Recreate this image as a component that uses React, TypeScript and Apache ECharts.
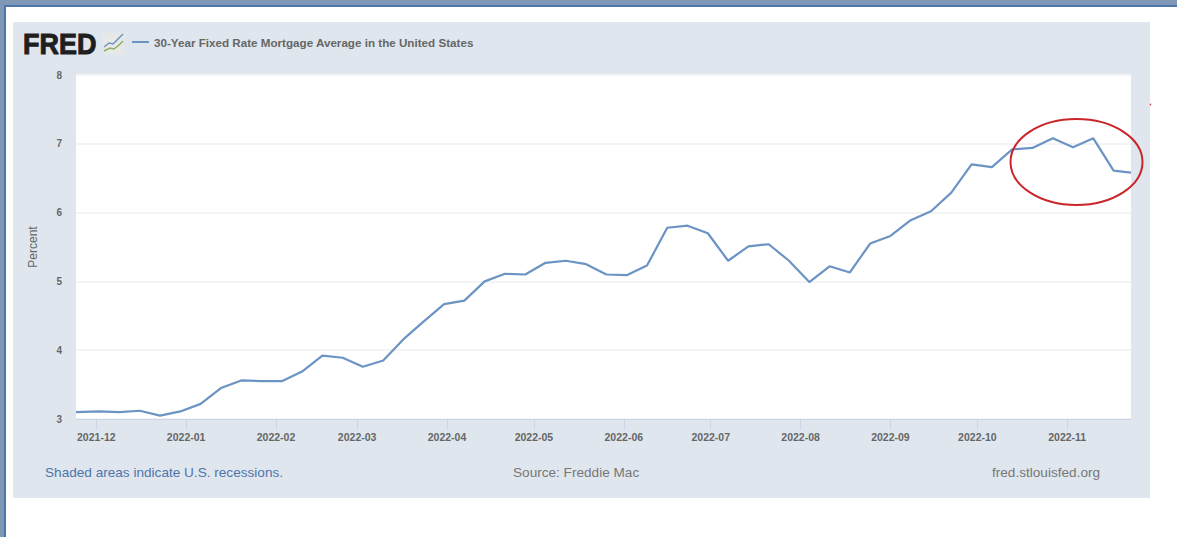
import React, { useEffect, useRef } from "react";
import * as echarts from "echarts";

const FONT = '"Liberation Sans", Arial, sans-serif';

const seriesName = "30-Year Fixed Rate Mortgage Average in the United States";

const weeks = [
  "2021-11-24", "2021-12-02", "2021-12-09", "2021-12-16", "2021-12-23", "2021-12-30",
  "2022-01-06", "2022-01-13", "2022-01-20", "2022-01-27", "2022-02-03", "2022-02-10",
  "2022-02-17", "2022-02-24", "2022-03-03", "2022-03-10", "2022-03-17", "2022-03-24",
  "2022-03-31", "2022-04-07", "2022-04-14", "2022-04-21", "2022-04-28", "2022-05-05",
  "2022-05-12", "2022-05-19", "2022-05-26", "2022-06-02", "2022-06-09", "2022-06-16",
  "2022-06-23", "2022-06-30", "2022-07-07", "2022-07-14", "2022-07-21", "2022-07-28",
  "2022-08-04", "2022-08-11", "2022-08-18", "2022-08-25", "2022-09-01", "2022-09-08",
  "2022-09-15", "2022-09-22", "2022-09-29", "2022-10-06", "2022-10-13", "2022-10-20",
  "2022-10-27", "2022-11-03", "2022-11-10", "2022-11-17", "2022-11-23",
];

const rates = [
  3.10, 3.11, 3.10, 3.12, 3.05, 3.11,
  3.22, 3.45, 3.56, 3.55, 3.55, 3.69,
  3.92, 3.89, 3.76, 3.85, 4.16, 4.42,
  4.67, 4.72, 5.00, 5.11, 5.10, 5.27,
  5.30, 5.25, 5.10, 5.09, 5.23, 5.78,
  5.81, 5.70, 5.30, 5.51, 5.54, 5.30,
  4.99, 5.22, 5.13, 5.55, 5.66, 5.89,
  6.02, 6.29, 6.70, 6.66, 6.92, 6.94,
  7.08, 6.95, 7.08, 6.61, 6.58,
];

const monthTicks = [
  "2021-12-01", "2022-01-01", "2022-02-01", "2022-03-01", "2022-04-01", "2022-05-01",
  "2022-06-01", "2022-07-01", "2022-08-01", "2022-09-01", "2022-10-01", "2022-11-01",
];

const toTime = (d: string) => Date.UTC(+d.slice(0, 4), +d.slice(5, 7) - 1, +d.slice(8, 10));

const monthLabel = (v: number) => new Date(v).toISOString().slice(0, 7);

export default function App() {
  const ref = useRef<HTMLDivElement>(null);

  useEffect(() => {
    document.body.style.margin = "0";
    const chart = echarts.init(ref.current!, null, { renderer: "svg" });
    const backdrop = -20;
    chart.setOption({
      animation: false,
      backgroundColor: "#ffffff",
      grid: {
        show: true,
        left: 76,
        top: 75,
        width: 1055,
        height: 344,
        backgroundColor: "#ffffff",
        borderWidth: 0,
      },
      legend: {
        show: true,
        left: 127,
        top: 31,
        itemWidth: 17,
        itemHeight: 2,
        itemGap: 4,
        icon: "rect",
        textStyle: { fontFamily: FONT, fontSize: 11.65, fontWeight: "bold", color: "#666666" },
      },
      xAxis: {
        type: "value",
        min: toTime(weeks[0]),
        max: toTime(weeks[weeks.length - 1]),
        axisLine: { show: true, lineStyle: { color: "#ccd6eb", width: 1 } },
        axisTick: {
          show: true,
          length: 11,
          lineStyle: { color: "#ccd6eb" },
          customValues: monthTicks.map(toTime),
        },
        splitLine: { show: false },
        axisLabel: {
          show: true,
          margin: 12,
          fontFamily: FONT,
          fontSize: 10.5,
          fontWeight: "bold",
          color: "#666666",
          customValues: monthTicks.map(toTime),
          formatter: (v: number) => monthLabel(v),
        },
      },
      yAxis: {
        type: "value",
        min: 3,
        max: 8,
        interval: 1,
        name: "Percent",
        nameLocation: "middle",
        nameGap: 37,
        nameTextStyle: { fontFamily: FONT, fontSize: 12, color: "#666666" },
        axisLine: { show: false },
        axisTick: { show: false },
        splitLine: { show: true, lineStyle: { color: "#f3f4f6", width: 2 } },
        axisLabel: {
          margin: 14,
          fontFamily: FONT,
          fontSize: 10,
          fontWeight: "bold",
          color: "#666666",
        },
      },
      series: [
        {
          name: seriesName,
          type: "line",
          data: weeks.map((w, i) => [toTime(w), rates[i]]),
          showSymbol: false,
          symbol: "none",
          lineStyle: { color: "#6b93c3", width: 2.2 },
          itemStyle: { color: "#6b93c3" },
        },
      ],
      graphic: [
        // browser-window edge behind the panel
        { type: "rect", z: backdrop, shape: { x: 0, y: 0, width: 1177, height: 5 }, style: { fill: "#7f98b5" } },
        { type: "rect", z: backdrop, shape: { x: 0, y: 5, width: 1177, height: 2 }, style: { fill: "#4f76aa" } },
        { type: "rect", z: backdrop, shape: { x: 0, y: 0, width: 4, height: 537 }, style: { fill: "#7f98b5" } },
        { type: "rect", z: backdrop, shape: { x: 4, y: 5, width: 2, height: 532 }, style: { fill: "#4f76aa" } },
        // FRED panel
        { type: "rect", z: backdrop, shape: { x: 13, y: 22, width: 1137, height: 476 }, style: { fill: "#dfe6ee" } },
        // logo wordmark and thumbnail
        {
          type: "text",
          z: 5,
          x: 23,
          y: 28,
          scaleX: 0.9,
          style: {
            text: "FRED",
            font: `bold 30px ${FONT}`,
            fill: "#1f1f1f",
            stroke: "#1f1f1f",
            lineWidth: 1,
          },
        },
        { type: "rect", z: 5, shape: { x: 103, y: 33, width: 21, height: 21 }, style: { fill: "#e8e9e6" } },
        {
          type: "polyline",
          z: 6,
          shape: { points: [[104, 47], [109, 43], [113, 44], [118, 39], [123, 34]] },
          style: { stroke: "#6b93c3", lineWidth: 1.5, fill: "none" },
        },
        {
          type: "polyline",
          z: 6,
          shape: { points: [[104, 51], [110, 48], [114, 49], [119, 45], [123, 41]] },
          style: { stroke: "#8fae6a", lineWidth: 1.5, fill: "none" },
        },
        // footer notes
        {
          type: "text",
          z: 5,
          x: 45,
          y: 465,
          style: { text: "Shaded areas indicate U.S. recessions.", font: `13.6px ${FONT}`, fill: "#4f74ab" },
        },
        {
          type: "text",
          z: 5,
          x: 513,
          y: 465,
          style: { text: "Source: Freddie Mac", font: `13.6px ${FONT}`, fill: "#777777" },
        },
        {
          type: "text",
          z: 5,
          x: 992,
          y: 465,
          style: { text: "fred.stlouisfed.org", font: `13.6px ${FONT}`, fill: "#777777" },
        },
        // hand-drawn emphasis around the latest readings
        {
          type: "ellipse",
          z: 10,
          shape: { cx: 1076.5, cy: 162, rx: 66, ry: 43 },
          style: { stroke: "#c9252b", lineWidth: 2, fill: "none" },
        },
        { type: "circle", z: 10, shape: { cx: 1150.5, cy: 104.5, r: 0.8 }, style: { fill: "#d9474c" } },
      ],
    });
    return () => chart.dispose();
  }, []);

  return <div ref={ref} style={{ position: "absolute", left: 0, top: 0, width: 1177, height: 537 }} />;
}
